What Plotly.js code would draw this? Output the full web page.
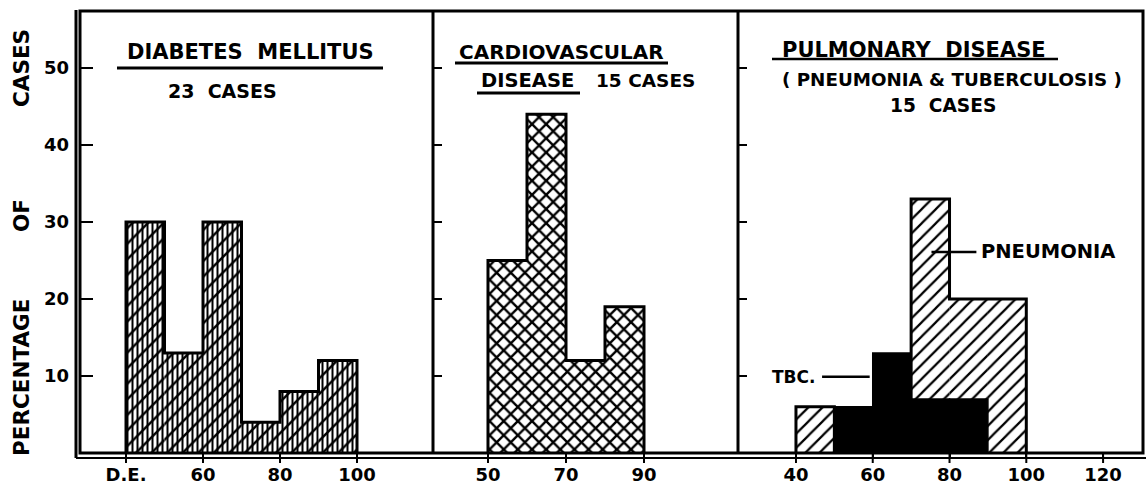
<!DOCTYPE html>
<html><head><meta charset="utf-8">
<script src="https://cdn.plot.ly/plotly-3.0.1.min.js"></script>
<style>html,body{margin:0;padding:0;background:#fff}#chart{width:1146px;height:487px}</style>
</head><body><div id="chart"></div>
<script>
// ---- data (percentage of cases per 10-unit bin, bin start values) ----
const binWidth = 10;
const diabetesBinStart = [40, 50, 60, 70, 80, 90];
const diabetesPct      = [30, 13, 30, 4, 8, 12];
const cardioBinStart   = [50, 60, 70, 80];
const cardioPct        = [25, 44, 12, 19];
const pulmBinStart     = [40, 50, 60, 70, 80, 90];
const pneumoniaPct     = [6, 0, 0, 33, 20, 20];
const tbcBinStart      = [50, 60, 70, 80];
const tbcPct           = [6, 13, 7, 7];
const yTickVals        = [10, 20, 30, 40, 50];
const diabetesTickVals = [40, 60, 80, 100];
const diabetesTickText = ['D.E.', '60', '80', '100'];
const cardioTickVals   = [50, 70, 90];
const pulmTickVals     = [40, 60, 80, 100, 120];

// ---- helpers ----
const FONT = 'DejaVu Sans';
const PL = 80, PR = 1143, PT = 11, PB = 453;
const px = x => (x - PL) / (PR - PL);
const py = y => (PB - y) / (PB - PT);
const d1 = px(433), d2 = px(738);

function stepOutline(starts, vals, w) {
  const xs = [starts[0]], ys = [0];
  for (let i = 0; i < starts.length; i++) { xs.push(starts[i]); ys.push(vals[i]); }
  const end = starts[starts.length - 1] + w;
  xs.push(end, end); ys.push(vals[vals.length - 1], 0);
  return {xs, ys};
}
function barTrace(starts, vals, xa, ya, pattern, color, lw) {
  return {type: 'bar', x: starts, y: vals, width: binWidth, offset: 0,
    xaxis: xa, yaxis: ya, hoverinfo: 'skip', showlegend: false,
    marker: {color: color || '#000', line: {width: lw || 0, color: '#000'}, pattern: pattern}};
}
function outlineTrace(starts, vals, xa, ya) {
  const o = stepOutline(starts, vals, binWidth);
  return {type: 'scatter', mode: 'lines', x: o.xs, y: o.ys, xaxis: xa, yaxis: ya,
    line: {color: '#000', width: 3, shape: 'hv'}, hoverinfo: 'skip', showlegend: false};
}

const traces = [
  barTrace(diabetesBinStart, diabetesPct, 'x', 'y', {shape: '|', size: 5, solidity: 0.4, fillmode: 'replace'}),
  barTrace(diabetesBinStart, diabetesPct, 'x', 'y', {shape: '/', size: 11, solidity: 0.22, fillmode: 'replace'}),
  outlineTrace(diabetesBinStart, diabetesPct, 'x', 'y'),
  barTrace(cardioBinStart, cardioPct, 'x2', 'y2', {shape: 'x', size: 10, solidity: 0.42, fillmode: 'replace'}),
  outlineTrace(cardioBinStart, cardioPct, 'x2', 'y2'),
  barTrace(pulmBinStart, pneumoniaPct, 'x3', 'y3', {shape: '/', size: 10, solidity: 0.22, fillmode: 'replace'}),
  outlineTrace(pulmBinStart, pneumoniaPct, 'x3', 'y3'),
  barTrace(tbcBinStart, tbcPct, 'x3', 'y3', undefined, '#000', 1.5)
];

const tickFont = {family: FONT, size: 18, color: '#000', weight: 700};
function xax(domain, range, vals, text) {
  const a = {domain: domain, range: range, tickmode: 'array', tickvals: vals,
    ticks: 'outside', ticklen: 5, tickwidth: 2, tickcolor: '#000',
    showgrid: false, zeroline: false, showline: false, tickfont: tickFont, fixedrange: true};
  if (text) a.ticktext = text;
  return a;
}
function yax(anchor, labels) {
  return {anchor: anchor, domain: [0, 1], range: [0, 57.4], tickmode: 'array', tickvals: yTickVals,
    ticks: 'inside', ticklen: labels ? 13 : 9, tickwidth: 2, tickcolor: '#000',
    showticklabels: labels, ticklabelstandoff: 10, tickfont: tickFont,
    showgrid: false, zeroline: false, showline: false, fixedrange: true};
}

function ann(text, x, y, size, extra) {
  return Object.assign({xref: 'paper', yref: 'paper', x: px(x), y: py(y), text: text,
    showarrow: false, xanchor: 'center', yanchor: 'middle',
    font: {family: FONT, size: size, color: '#000', weight: 700}}, extra || {});
}

const annotations = [
  ann('DIABETES  MELLITUS', 250, 52, 21),
  ann('23  CASES', 222, 91, 19),
  ann('CARDIOVASCULAR', 561, 52, 20),
  ann('DISEASE', 527, 80, 19.5),
  ann('15 CASES', 645, 80, 18.5),
  ann('PULMONARY  DISEASE', 914, 50, 21),
  ann('( PNEUMONIA & TUBERCULOSIS )', 952, 79, 18.3),
  ann('15  CASES', 943, 105, 18.6),
  ann('PNEUMONIA', 1048, 251, 19.5),
  ann('TBC.', 794, 377, 17),
  ann('PERCENTAGE', 21, 378, 21.5, {textangle: -90}),
  ann('OF', 21, 216, 21.5, {textangle: -90}),
  ann('CASES', 21, 68, 21.5, {textangle: -90})
];

function pline(x0, y0, x1, y1, w) {
  return {type: 'line', xref: 'paper', yref: 'paper', x0: px(x0), y0: py(y0), x1: px(x1), y1: py(y1),
    line: {color: '#000', width: w}};
}
// x tick marks crossing the double base line
const xTickShapes = [];
[['x', diabetesTickVals], ['x2', cardioTickVals], ['x3', pulmTickVals]].forEach(([ax, vals]) => {
  vals.forEach(v => xTickShapes.push({type: 'line', xref: ax, yref: 'paper', x0: v, x1: v,
    y0: py(PB), y1: py(463), line: {color: '#000', width: 2}}));
});
const shapes = [
  {type: 'rect', xref: 'paper', yref: 'paper', x0: 0, y0: 0, x1: 1, y1: 1, line: {color: '#000', width: 3}},
  pline(433, PT, 433, PB, 3),
  pline(738, PT, 738, PB, 3),
  pline(76, PT - 1, 76, 458, 3),
  pline(76, 458, 1146, 458, 2),
  // title underlines
  pline(117, 68, 383, 68, 3),
  pline(455, 63, 668, 63, 3),
  pline(477, 93, 580, 93, 3),
  pline(772, 59, 1058, 59, 2.5),
  // pointer lines
  {type: 'line', xref: 'x3', yref: 'y3', x0: 75.3, y0: 26.1, x1: 87.0, y1: 26.1, line: {color: '#000', width: 2.5}},
  {type: 'line', xref: 'x3', yref: 'y3', x0: 46.8, y0: 9.9, x1: 59.2, y1: 9.9, line: {color: '#000', width: 2.5}}
].concat(xTickShapes);

const layout = {
  width: 1146, height: 487,
  margin: {l: PL, r: 1146 - PR, t: PT, b: 487 - PB},
  paper_bgcolor: '#fff', plot_bgcolor: 'rgba(0,0,0,0)',
  barmode: 'overlay', showlegend: false,
  xaxis:  xax([0, d1], [28.05, 119.74], diabetesTickVals, diabetesTickText),
  xaxis2: xax([d1, d2], [35.9, 114.1], cardioTickVals),
  xaxis3: xax([d2, 1], [24.9, 130.4], pulmTickVals),
  yaxis:  yax('x', true),
  yaxis2: yax('x2', false),
  yaxis3: yax('x3', false),
  annotations: annotations,
  shapes: shapes
};

Plotly.newPlot('chart', traces, layout, {staticPlot: true, displayModeBar: false});
</script>
</body></html>
